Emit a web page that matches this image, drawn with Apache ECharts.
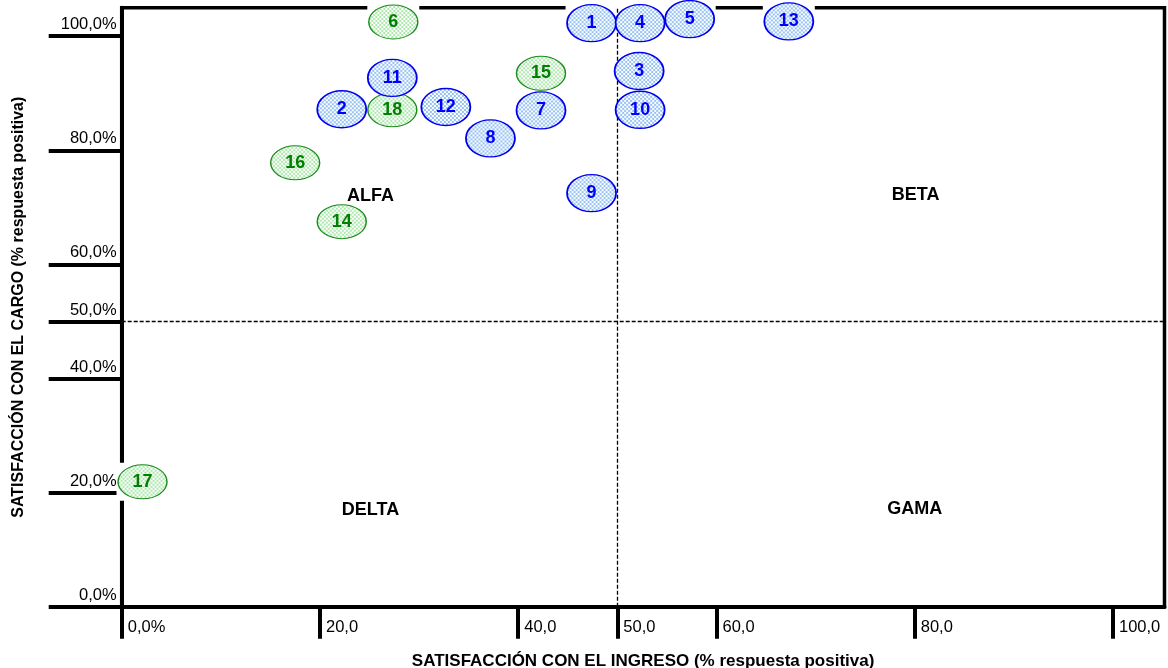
<!DOCTYPE html>
<html>
<head>
<meta charset="utf-8">
<script src="https://cdn.jsdelivr.net/npm/echarts@6/dist/echarts.min.js"></script>
<style>
html,body{margin:0;padding:0;background:#fff;}
#chart{width:1168px;height:668px;}
</style>
</head>
<body>
<div id="chart"></div>
<script>
// ---- data ----
const pointIds    = ['1','2','3','4','5','6','7','8','9','10','11','12','13','14','15','16','17','18'];
const pointX      = [47.4, 22.2, 52.2, 52.3, 57.3, 27.4, 42.3, 37.2, 47.4, 52.3, 27.3, 32.7, 67.3, 22.2, 42.3, 17.5, 2.1, 27.3];
const pointY      = [102.3, 87.2, 93.9, 102.3, 103.0, 102.5, 87.0, 82.1, 72.5, 87.1, 92.7, 87.6, 102.6, 67.5, 93.5, 77.8, 21.9, 87.1];
const pointGroup  = ['A','A','A','A','A','B','A','A','A','A','A','A','A','B','B','B','B','B'];

const quadrantNames = ['ALFA', 'BETA', 'DELTA', 'GAMA'];
const quadrantX     = [25.1, 80.1, 25.1, 80.0];
const quadrantY     = [71.9, 72.2, 17.0, 17.1];

const dividerX = 50;
const dividerY = 50;

const xTickValues = [0, 20, 40, 50, 60, 80, 100];
const xTickLabels = ['0,0%', '20,0', '40,0', '50,0', '60,0', '80,0', '100,0'];
const yTickValues = [0, 20, 40, 50, 60, 80, 100];
const yTickLabels = ['0,0%', '20,0%', '40,0%', '50,0%', '60,0%', '80,0%', '100,0%'];

const xTitle = 'SATISFACCIÓN CON EL INGRESO (% respuesta positiva)';
const yTitle = 'SATISFACCIÓN CON EL CARGO (% respuesta positiva)';

// ---- build ----
const FONT = '"Liberation Sans", Arial, sans-serif';

function checker(c) {
  const cv = document.createElement('canvas');
  cv.width = 4; cv.height = 4;
  const ctx = cv.getContext('2d');
  ctx.fillStyle = '#ffffff'; ctx.fillRect(0, 0, 4, 4);
  ctx.fillStyle = c;
  ctx.fillRect(0, 0, 2, 2);
  ctx.fillRect(2, 2, 2, 2);
  return cv;
}

function pts(group) {
  const out = [];
  pointIds.forEach((id, i) => {
    if (group == null || pointGroup[i] === group) out.push({ name: id, value: [pointX[i], pointY[i]] });
  });
  return out;
}

const quadData = quadrantNames.map((n, i) => ({ name: n, value: [quadrantX[i], quadrantY[i]] }));

function ellipseSeries(group, fill, stroke, strokeW, w, h, textColor) {
  return {
    type: 'scatter',
    z: 5,
    clip: false,
    silent: true,
    symbol: 'circle',
    symbolSize: [w, h],
    data: pts(group),
    itemStyle: {
      // ECharts draws symbols at 2x2 and scales them; counter-scale the pattern
      color: { image: checker(fill), repeat: 'repeat', scaleX: 2 / w, scaleY: 2 / h },
      borderColor: stroke, borderWidth: strokeW, opacity: 1
    },
    label: {
      show: true, position: 'inside', formatter: p => p.name,
      color: textColor, fontFamily: FONT, fontWeight: 'bold', fontSize: 18, opacity: 1
    }
  };
}

const chart = echarts.init(document.getElementById('chart'), null, { renderer: 'canvas' });

chart.setOption({
  animation: false,
  backgroundColor: '#ffffff',
  grid: {
    left: 121.7, right: 3.5, top: 7.7, bottom: 61.3,
    outerBoundsMode: 'none', containLabel: false,
    show: true, borderColor: '#000', borderWidth: 3.5, backgroundColor: 'transparent'
  },
  xAxis: {
    type: 'value', min: 0, max: 105.2,
    splitLine: { show: false },
    axisLine: { show: true, onZero: false, lineStyle: { color: '#000', width: 4 } },
    axisTick: { show: true, customValues: xTickValues, length: 32, inside: false, lineStyle: { color: '#000', width: 4 } },
    axisLabel: {
      customValues: xTickValues,
      formatter: v => xTickLabels[xTickValues.indexOf(v)],
      align: 'left', verticalAlign: 'middle', margin: 21, padding: [0, 0, 0, 6],
      color: '#000', fontFamily: FONT, fontSize: 16.5
    },
    name: xTitle, nameLocation: 'middle', nameGap: 46,
    nameTextStyle: { color: '#000', fontFamily: FONT, fontWeight: 'bold', fontSize: 17 }
  },
  yAxis: {
    type: 'value', min: 0, max: 105,
    splitLine: { show: false },
    axisLine: { show: true, onZero: false, lineStyle: { color: '#000', width: 4 } },
    axisTick: { show: true, customValues: yTickValues, length: 73, inside: false, lineStyle: { color: '#000', width: 4 } },
    axisLabel: {
      customValues: yTickValues,
      formatter: v => yTickLabels[yTickValues.indexOf(v)],
      align: 'right', verticalAlign: 'bottom', margin: 5, padding: [0, 0, 3, 0],
      color: '#000', fontFamily: FONT, fontSize: 16.5
    },
    name: yTitle, nameLocation: 'middle', nameGap: 95,
    nameTextStyle: { color: '#000', fontFamily: FONT, fontWeight: 'bold', fontSize: 16 }
  },
  series: [
    {
      type: 'scatter', z: 1, silent: true, clip: false,
      symbolSize: 0,
      data: quadData,
      itemStyle: { opacity: 1 },
      label: {
        show: true, position: 'inside', formatter: p => p.name, opacity: 1,
        color: '#000', fontFamily: FONT, fontWeight: 'bold', fontSize: 18
      },
      markLine: {
        silent: true, symbol: ['none', 'none'], label: { show: false },
        lineStyle: { color: '#000', type: [4, 2], width: 1.3, opacity: 1 },
        data: [{ xAxis: dividerX }, { yAxis: dividerY }]
      }
    },
    {
      type: 'scatter', z: 3, silent: true, clip: false,
      symbol: 'rect', symbolSize: [52, 38],
      data: pts(null),
      itemStyle: { color: '#ffffff', opacity: 1 }
    },
    ellipseSeries('B', '#aee8ae', '#1a8a1a', 1.2, 49, 34, '#008000'),
    ellipseSeries('A', '#96c2f4', '#0000ee', 1.6, 49, 37, '#0000ff')
  ]
});
</script>
</body>
</html>
